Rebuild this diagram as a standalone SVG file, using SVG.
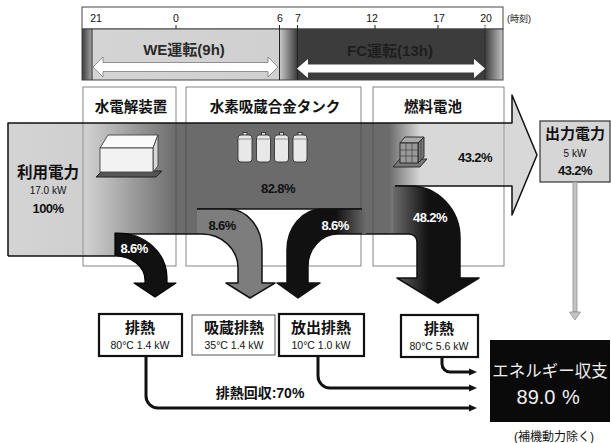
<svg xmlns="http://www.w3.org/2000/svg" width="611" height="443" viewBox="0 0 611 443">
<style>
  text { font-family: 'Liberation Sans', 'Noto Sans CJK JP', sans-serif; fill: #111; }
  .b { font-weight: bold; }
  .mid { text-anchor: middle; }
  .num { font-size: 10.5px; }
  .ttl { font-size: 14.5px; font-weight: bold; text-anchor: middle; }
  .pct { font-size: 13px; font-weight: bold; text-anchor: middle; letter-spacing: -0.6px; }
  .wh { fill: #fff; }
  .col { fill: #fff; stroke: #666; stroke-width: 0.8; }
  .colEdge { fill: none; stroke: #333; stroke-width: 0.7; opacity: 0.55; }
  .edge { fill: none; stroke: #111; stroke-width: 1.5; stroke-linejoin: round; }
  .hbox { fill: #fff; stroke: #111; stroke-width: 2.2; }
  .hsub { font-size: 10.5px; text-anchor: middle; }
  .heat { fill: none; stroke: #111; stroke-width: 3; marker-end: url(#ah); }
</style>
<defs>
  <linearGradient id="tl" gradientUnits="userSpaceOnUse" x1="82" y1="0" x2="503" y2="0">
    <stop offset="0" stop-color="#3a3a3a"/>
    <stop offset="0.0214" stop-color="#9a9a9a"/>
    <stop offset="0.0238" stop-color="#d4d4d4"/>
    <stop offset="0.468" stop-color="#d0d0d0"/>
    <stop offset="0.511" stop-color="#3c3c3c"/>
    <stop offset="0.957" stop-color="#3c3c3c"/>
    <stop offset="1" stop-color="#c4c4c4"/>
  </linearGradient>
  <linearGradient id="band" gradientUnits="userSpaceOnUse" x1="8" y1="0" x2="537" y2="0">
    <stop offset="0" stop-color="#d4d4d4"/>
    <stop offset="0.15" stop-color="#cfcfcf"/>
    <stop offset="0.32" stop-color="#6b6b6b"/>
    <stop offset="0.72" stop-color="#6b6b6b"/>
    <stop offset="0.78" stop-color="#d8d8d8"/>
    <stop offset="1" stop-color="#d8d8d8"/>
  </linearGradient>
  <linearGradient id="g48" gradientUnits="userSpaceOnUse" x1="393" y1="0" x2="428" y2="0">
    <stop offset="0" stop-color="#6b6b6b"/>
    <stop offset="1" stop-color="#111"/>
  </linearGradient>
  <linearGradient id="gTank" gradientUnits="userSpaceOnUse" x1="336" y1="0" x2="366" y2="0">
    <stop offset="0" stop-color="#111"/>
    <stop offset="1" stop-color="#6b6b6b"/>
  </linearGradient>
  <marker id="ah" viewBox="0 0 8 8" refX="1" refY="4" markerWidth="8" markerHeight="8" markerUnits="userSpaceOnUse" orient="auto">
    <path d="M0,0.5 L8,4 L0,7.5 Z" fill="#111"/>
  </marker>
</defs>

<rect width="611" height="443" fill="#fff"/>

<!-- operating timeline -->
<g id="timeline">
  <rect x="82" y="7" width="421" height="22" fill="#fff" stroke="#444" stroke-width="1"/>
  <rect x="82" y="29" width="421" height="51" fill="url(#tl)" stroke="#444" stroke-width="1"/>
  <g class="num mid">
    <text x="96" y="22" class="mid">21</text>
    <text x="176" y="22" class="mid">0</text>
    <text x="280" y="22" class="mid">6</text>
    <text x="298" y="22" class="mid">7</text>
    <text x="372" y="22" class="mid">12</text>
    <text x="439" y="22" class="mid">17</text>
    <text x="486" y="22" class="mid">20</text>
  </g>
  <text x="507" y="22" font-size="9">(時刻)</text>
  <g stroke="#222" stroke-width="1">
    <line x1="176" y1="25" x2="176" y2="29"/>
    <line x1="375" y1="25" x2="375" y2="29"/>
    <line x1="438" y1="25" x2="438" y2="29"/>
    <line x1="92" y1="29" x2="92" y2="80"/>
    <line x1="279.5" y1="25" x2="279.5" y2="80"/>
    <line x1="297.5" y1="25" x2="297.5" y2="80"/>
    <line x1="485" y1="25" x2="485" y2="80" stroke-dasharray="1.5 1"/>
  </g>
  <text x="184" y="55" class="b mid" font-size="15" style="fill:#2a2a2a">WE運転(9h)</text>
  <text x="390" y="56" class="b mid" font-size="15" style="fill:#1e1e1e">FC運転(13h)</text>
  <path d="M93,67 L103,57 V62.5 H268 V57 L278,67 L268,77 V71.5 H103 V77 Z" fill="#fff" stroke="#777" stroke-width="0.8"/>
  <path d="M297,68.5 L308,59 V64.5 H474 V59 L485,68.5 L474,78 V72.5 H308 V78 Z" fill="#fff"/>
</g>

<!-- equipment columns -->
<g id="columns">
  <rect class="col" x="83" y="87" width="93" height="179"/>
  <rect class="col" x="186" y="87" width="175" height="179"/>
  <rect class="col" x="373" y="87" width="131" height="179"/>
</g>

<!-- energy flow band with its branches -->
<g id="flow">
  <path d="M8,123 H512 V95 L537,155 L512,215 V186 H410 V234 H362 V209 H197 V234 H115 V256 H8 Z" fill="url(#band)"/>
  <path class="edge" d="M8,256 V123 H512 V95 L537,155 L512,215 V186 H395"/>
  <path class="edge" d="M8,256 H115"/>
  <path class="edge" d="M115,234 H197"/>
  <path class="edge" d="M197,209 H362"/>
  <path class="edge" d="M362,234 H393"/>

  <!-- column borders seen through the band -->
  <path class="colEdge" d="M83,123 V256 M176,123 V234 M186,123 V234 M361,123 V234 M373,123 V234 M504,123 V186"/>

  <!-- electrolyser heat branch -->
  <path d="M115,233 H118 A49,45 0 0 1 167,278 V283 H176 L155,297 L134,283 H145 V280 A30,24 0 0 0 115,256 Z" fill="#111" stroke="#000" stroke-width="1.2" stroke-linejoin="round"/>
  <!-- absorption heat branch -->
  <path d="M197,209 H228 A34,40 0 0 1 262,249 V283 H275 L250,298 L226,283 H238 V268 A36,34 0 0 0 202,234 H197 Z" fill="#7d7d7d"/>
  <path class="edge" d="M197,209 H228 A34,40 0 0 1 262,249 V283 H275 L250,298 L226,283 H238 V268 A36,34 0 0 0 202,234 H197"/>
  <!-- release heat branch -->
  <path d="M366,209 H322 A35,41 0 0 0 287,250 V283 H277 L298,298 L320,283 H308 V266 A30,32 0 0 1 338,234 H366 Z" fill="url(#gTank)"/>
  <path class="edge" d="M362,209 H322 A35,41 0 0 0 287,250 V283 H277 L298,298 L320,283 H308 V266 A30,32 0 0 1 338,234 H362"/>
  <!-- fuel cell heat branch -->
  <path d="M393,186 H410 A50,52 0 0 1 460,238 V278 H479 L438,303 L397,278 H417 V242 A8,8 0 0 0 409,234 H393 Z" fill="url(#g48)"/>
  <path class="edge" d="M395,186 H410 A50,52 0 0 1 460,238 V278 H479 L438,303 L397,278 H417 V242 A8,8 0 0 0 409,234 H393"/>

  <text x="278" y="193" class="pct">82.8%</text>
  <text x="475" y="162" class="pct">43.2%</text>
  <text x="430" y="222" class="pct wh">48.2%</text>
  <text x="134" y="253" class="pct wh">8.6%</text>
  <text x="222" y="230" class="pct">8.6%</text>
  <text x="335" y="230" class="pct wh">8.6%</text>
</g>

<!-- electrolyser -->
<g id="node-electrolyzer">
  <text x="131" y="112" class="ttl">水電解装置</text>
  <polygon points="96,177 156,177 162,171 102,171" fill="#555" stroke="#222" stroke-width="1"/>
  <polygon points="100,148 108,135 158,135 153,148" fill="#fafafa" stroke="#444" stroke-width="0.9"/>
  <polygon points="153,148 158,135 158,166 153,172" fill="#d8d8d8" stroke="#444" stroke-width="0.9"/>
  <rect x="100" y="148" width="53" height="24" fill="#f2f2f2" stroke="#444" stroke-width="0.9"/>
</g>

<!-- hydrogen storage alloy tank -->
<g id="node-tank">
  <text x="275" y="112" class="ttl">水素吸蔵合金タンク</text>
  <g fill="#e8e8e8" stroke="#333" stroke-width="0.9">
    <rect x="243" y="132.5" width="4" height="3"/>
    <rect x="238" y="135" width="14" height="27" rx="3"/>
    <rect x="261.5" y="132.5" width="4" height="3"/>
    <rect x="256.5" y="135" width="14" height="27" rx="3"/>
    <rect x="279.5" y="132.5" width="4" height="3"/>
    <rect x="274.5" y="135" width="14" height="27" rx="3"/>
    <rect x="298" y="132.5" width="4" height="3"/>
    <rect x="293" y="135" width="14" height="27" rx="3"/>
  </g>
  <g stroke="#555" stroke-width="0.6" fill="none">
    <path d="M238,139 H252 M256.5,139 H270.5 M274.5,139 H288.5 M293,139 H307"/>
  </g>
</g>

<!-- fuel cell -->
<g id="node-fuelcell">
  <text x="433" y="112" class="ttl">燃料電池</text>
  <polygon points="393,167 420,167 427,159 400,159" fill="#777" stroke="#222" stroke-width="0.9"/>
  <polygon points="400,143 405,137 424,137 418,143" fill="#aaa" stroke="#222" stroke-width="0.9"/>
  <polygon points="418,143 424,137 424,157 418,163" fill="#777" stroke="#222" stroke-width="0.9"/>
  <rect x="400" y="143" width="18" height="20" fill="#999" stroke="#222" stroke-width="0.9"/>
  <path d="M406,143 V163 M412,143 V163 M400,150 H418 M400,156 H418 M421,140 V160" stroke="#333" stroke-width="0.6" fill="none"/>
</g>

<!-- input power -->
<g id="node-input">
  <text x="48" y="178" class="b mid" font-size="15.5">利用電力</text>
  <text x="48" y="194" class="mid" font-size="10">17.0 kW</text>
  <text x="48" y="213" class="pct" font-size="14">100%</text>
</g>

<!-- output power -->
<g id="node-output">
  <rect x="540" y="121" width="70" height="61" fill="#d6d6d6" stroke="#333" stroke-width="1.2"/>
  <text x="575" y="139" class="b mid" font-size="15">出力電力</text>
  <text x="575" y="157" class="mid" font-size="10">5 kW</text>
  <text x="575" y="175" class="pct">43.2%</text>
</g>

<!-- heat outputs -->
<g id="node-heat1">
  <rect class="hbox" x="99" y="314" width="83" height="42"/>
  <text x="140" y="333" class="b mid" font-size="15">排熱</text>
  <text x="140" y="349" class="hsub">80°C 1.4 kW</text>
</g>
<g id="node-heat2">
  <rect x="192" y="315" width="83" height="40" fill="#fff" stroke="#555" stroke-width="1"/>
  <text x="234" y="333" class="b mid" font-size="15">吸蔵排熱</text>
  <text x="234" y="349" class="hsub">35°C 1.4 kW</text>
</g>
<g id="node-heat3">
  <rect class="hbox" x="279" y="314" width="85" height="42"/>
  <text x="321" y="333" class="b mid" font-size="15">放出排熱</text>
  <text x="321" y="349" class="hsub">10°C 1.0 kW</text>
</g>
<g id="node-heat4">
  <rect class="hbox" x="401" y="315" width="77" height="42"/>
  <text x="439" y="334" class="b mid" font-size="15">排熱</text>
  <text x="439" y="350" class="hsub">80°C 5.6 kW</text>
</g>

<!-- energy balance -->
<g id="node-balance">
  <rect x="490" y="340" width="120" height="82" fill="#0a0a0a"/>
  <text x="550" y="377" class="mid" font-size="16.5" style="fill:#f0f0f0">エネルギー収支</text>
  <text x="536" y="404" class="mid" font-size="20" style="fill:#f0f0f0">89.0</text>
  <text x="571" y="404" class="mid" font-size="20" style="fill:#f0f0f0">%</text>
  <text x="554" y="441" class="mid" font-size="12">(補機動力除く)</text>
</g>

<!-- connectors -->
<g id="connectors">
  <path class="heat" d="M146,356 V396 A12,12 0 0 0 158,408 H470"/>
  <path class="heat" d="M318,356 V376 A12,12 0 0 0 330,388 H470"/>
  <path class="heat" d="M442,357 V364 A8,8 0 0 0 450,372 H470"/>
  <text x="260" y="398" class="b mid" font-size="14">排熱回収:70%</text>
  <rect x="573" y="182" width="4" height="130" fill="#c4c4c4" stroke="#888" stroke-width="0.7"/>
  <polygon points="569.5,312 580.5,312 575,320" fill="#c4c4c4" stroke="#888" stroke-width="0.7"/>
</g>
</svg>
